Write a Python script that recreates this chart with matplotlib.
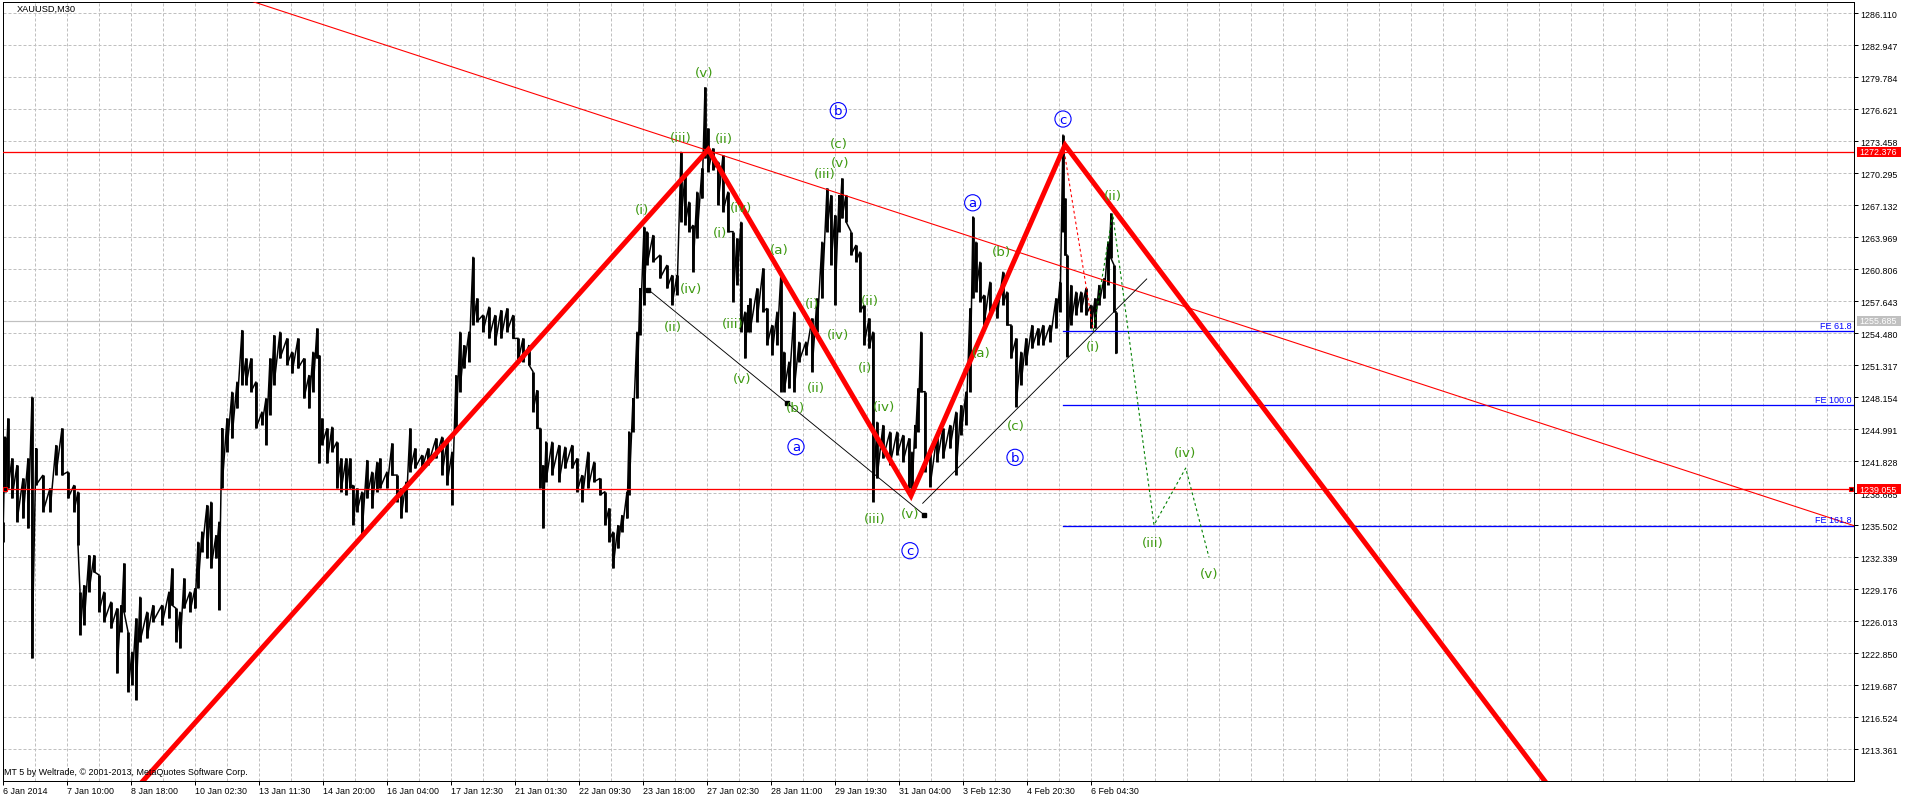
import matplotlib
matplotlib.use("Agg")
import matplotlib.pyplot as plt
from matplotlib.ticker import MultipleLocator, FixedLocator
from matplotlib.patches import Rectangle
from matplotlib.transforms import IdentityTransform

# ---------------- data (time in M30 bar index, prices in USD) ----------------
bar_t = [1, 3, 6, 10, 15, 21, 26, 30, 34, 41, 48, 54, 60, 66, 72, 76, 78, 82, 87, 92,
         97, 102, 109, 115, 119, 122, 126, 130, 134, 138, 145, 151, 160, 167, 170, 174, 178, 182, 188, 193,
         196, 200, 205, 209, 214, 217, 220, 225, 230, 235, 240, 244, 249, 254, 260, 264, 268, 272, 278, 285,
         290, 296, 302, 307, 311, 315, 317, 320, 325, 330, 335, 339, 344, 348, 351, 355, 360, 365, 370, 375,
         378, 385, 390, 395, 399, 404, 408, 413, 420, 426, 434, 440, 445, 450, 454, 458, 462, 467, 471, 475,
         481, 487, 493, 499, 505, 511, 516, 521, 527, 531, 535, 538, 541, 544, 550, 557, 563, 570, 575, 580,
         586, 592, 598, 603, 607, 611, 616, 620, 625, 627, 631, 635, 638, 642, 645, 651, 658, 665, 670, 675,
         679, 683, 687, 691, 695, 700, 703, 706, 711, 716, 721, 726, 731, 735, 739, 743, 746,
         748, 755, 761, 765, 770, 775, 779, 782, 787, 792, 797, 804, 810, 815, 820, 825, 829, 833, 837, 840,
         844, 849, 854, 858, 862, 867, 871, 875, 881, 888, 895, 901, 907, 910, 913, 916, 919, 923, 928, 935,
         941, 948, 954, 959, 964, 968, 971, 974, 978, 982, 988, 995, 1001, 1005, 1009, 1014, 1019, 1024, 1030, 1036,
         1041, 1048, 1054, 1058, 1061, 1063, 1065, 1069, 1074, 1079, 1084, 1089, 1093, 1097, 1102, 1106, 1109, 1112, 1114]
bar_high = [1235.83, 1244.23, 1246.04, 1242.09, 1241.43, 1240.11, 1242.09, 1248.19, 1243.08, 1240.44,
            1239.12, 1243.41, 1245.06, 1240.77, 1239.45, 1238.80, 1228.91, 1229.57, 1232.53, 1232.53,
            1230.56, 1228.91, 1227.92, 1227.26, 1227.59, 1231.71, 1224.96, 1222.98, 1226.27, 1228.42,
            1226.93, 1227.59, 1227.59, 1228.91, 1231.22, 1227.26, 1226.93, 1230.23, 1228.91, 1229.24,
            1233.85, 1234.84, 1237.48, 1237.81, 1234.51, 1235.83, 1245.06, 1246.04, 1248.68, 1249.67,
            1254.78, 1251.97, 1251.97, 1249.67, 1246.70, 1248.02, 1251.97, 1254.28, 1254.61, 1253.95,
            1252.63, 1253.95, 1251.97, 1250.33, 1252.63, 1254.94, 1252.30, 1246.04, 1245.06, 1245.22,
            1243.74, 1242.09, 1242.09, 1242.09, 1239.45, 1239.12, 1238.80, 1241.93, 1240.77, 1241.76,
            1242.09, 1240.77, 1243.57, 1240.44, 1239.13, 1239.78, 1245.05, 1243.08, 1242.42, 1243.08,
            1244.07, 1244.23, 1243.74, 1242.75, 1250.33, 1254.61, 1253.29, 1254.61, 1262.02, 1257.91,
            1256.26, 1257.08, 1256.26, 1256.75, 1256.92, 1256.26, 1253.95, 1253.95, 1253.29, 1250.66,
            1248.84, 1245.05, 1241.43, 1243.74, 1243.74, 1243.41, 1243.24, 1243.41, 1242.09, 1240.44,
            1242.75, 1241.76, 1240.11, 1238.80, 1237.15, 1234.84, 1235.50, 1236.49, 1238.80, 1244.73,
            1248.02, 1254.61, 1258.89, 1264.99, 1264.50, 1264.17, 1262.19, 1261.20, 1260.21, 1260.21,
            1272.40, 1270.10, 1267.46, 1265.15, 1268.45, 1270.76, 1278.77, 1274.71, 1272.73, 1271.42,
            1272.07, 1268.45, 1264.50, 1263.84, 1265.48, 1256.59, 1257.25,
            1257.91, 1258.89, 1260.87, 1256.92, 1255.27, 1256.59, 1260.54, 1252.63, 1251.65, 1256.59,
            1253.62, 1253.62, 1255.93, 1257.91, 1263.51, 1268.78, 1268.12, 1266.14, 1268.12, 1269.77,
            1268.12, 1264.50, 1263.18, 1262.52, 1257.25, 1255.93, 1254.61, 1245.71, 1245.39, 1244.73,
            1244.73, 1244.40, 1244.07, 1242.75, 1245.39, 1249.01, 1254.61, 1248.68, 1243.08, 1244.40,
            1245.05, 1245.39, 1246.70, 1247.36, 1248.68, 1256.92, 1265.98, 1263.51, 1261.53, 1258.24,
            1259.55, 1257.91, 1260.54, 1258.57, 1255.27, 1253.95, 1252.63, 1253.95, 1255.27, 1254.94,
            1255.27, 1255.27, 1257.91, 1259.55, 1274.10, 1267.79, 1262.19, 1259.23, 1258.57, 1258.57,
            1258.89, 1257.25, 1257.91, 1259.23, 1259.88, 1263.51, 1266.31, 1261.20, 1256.59]
bar_low = [1233.85, 1238.80, 1239.12, 1238.14, 1235.83, 1236.16, 1235.17, 1222.32, 1239.45, 1236.82,
           1236.82, 1240.44, 1240.44, 1238.14, 1236.82, 1233.52, 1224.63, 1225.62, 1228.91, 1230.89,
           1226.93, 1225.95, 1225.29, 1220.84, 1224.96, 1226.93, 1219.03, 1219.68, 1218.20, 1223.97,
           1224.30, 1225.95, 1225.62, 1226.27, 1227.59, 1223.97, 1223.31, 1227.26, 1226.93, 1227.26,
           1229.24, 1232.86, 1232.20, 1231.22, 1232.20, 1227.10, 1239.12, 1242.75, 1244.07, 1247.03,
           1249.34, 1249.34, 1248.68, 1245.06, 1245.39, 1243.41, 1246.37, 1249.34, 1251.97, 1251.32,
           1250.49, 1250.99, 1248.02, 1247.03, 1248.68, 1251.97, 1241.60, 1243.41, 1241.60, 1242.75,
           1239.12, 1238.80, 1238.47, 1239.12, 1235.50, 1236.82, 1234.51, 1238.14, 1237.15, 1238.80,
           1239.13, 1239.13, 1240.44, 1237.81, 1236.16, 1236.82, 1240.77, 1241.10, 1241.10, 1241.43,
           1242.09, 1240.44, 1239.45, 1237.48, 1244.73, 1248.68, 1250.99, 1251.65, 1255.27, 1255.60,
           1254.61, 1253.95, 1253.29, 1253.95, 1254.61, 1253.95, 1251.65, 1251.65, 1251.32, 1246.70,
           1245.05, 1239.13, 1235.17, 1239.78, 1240.44, 1239.78, 1241.10, 1241.10, 1238.80, 1237.81,
           1239.13, 1239.78, 1238.47, 1235.50, 1233.85, 1231.22, 1233.19, 1234.84, 1236.16, 1238.47,
           1244.73, 1248.02, 1254.28, 1257.25, 1261.20, 1261.53, 1259.88, 1258.89, 1257.25, 1258.24,
           1265.48, 1265.15, 1264.50, 1260.54, 1263.84, 1267.79, 1271.74, 1270.43, 1270.59, 1267.13,
           1266.47, 1264.50, 1257.58, 1259.23, 1254.61, 1251.97, 1254.61,
           1254.61, 1255.60, 1256.59, 1253.29, 1252.30, 1253.29, 1248.68, 1248.68, 1249.01, 1248.68,
           1251.65, 1252.30, 1250.66, 1254.61, 1257.91, 1264.50, 1261.20, 1257.25, 1264.50, 1265.81,
           1265.48, 1262.19, 1261.53, 1256.59, 1253.29, 1252.96, 1237.81, 1240.11, 1242.09, 1241.43,
           1242.42, 1241.76, 1239.13, 1238.80, 1243.08, 1244.73, 1248.68, 1240.77, 1239.29, 1241.76,
           1242.09, 1243.08, 1240.44, 1244.40, 1245.39, 1248.68, 1257.91, 1258.57, 1257.58, 1255.27,
           1256.59, 1255.93, 1257.25, 1255.27, 1251.97, 1247.20, 1249.34, 1251.32, 1252.96, 1253.29,
           1253.29, 1253.62, 1254.94, 1256.59, 1264.50, 1262.19, 1252.14, 1255.27, 1256.26, 1256.59,
           1256.26, 1254.94, 1254.94, 1257.25, 1257.91, 1259.23, 1261.86, 1256.59, 1252.47]

tick_bars = [1, 65, 129, 193, 257, 321, 385, 449, 513, 577, 641, 705, 769, 833, 897, 961, 1025, 1089]
tick_labels = ["6 Jan 2014", "7 Jan 10:00", "8 Jan 18:00", "10 Jan 02:30", "13 Jan 11:30",
               "14 Jan 20:00", "16 Jan 04:00", "17 Jan 12:30", "21 Jan 01:30", "22 Jan 09:30",
               "23 Jan 18:00", "27 Jan 02:30", "28 Jan 11:00", "29 Jan 19:30", "31 Jan 04:00",
               "3 Feb 12:30", "4 Feb 20:30", "6 Feb 04:30"]
price_ticks = [1213.361, 1216.524, 1219.687, 1222.850, 1226.013, 1229.176, 1232.339, 1235.502,
               1238.665, 1241.828, 1244.991, 1248.154, 1251.317, 1254.480, 1257.643, 1260.806,
               1263.969, 1267.132, 1270.295, 1273.458, 1276.621, 1279.784, 1282.947, 1286.110]

# red zigzag (Elliott swing)
zz_t = [100, 706.3, 909, 1063, 1600]
zz_p = [1205.68, 1272.62, 1238.40, 1273.06, 1202.70]
# thin red trend line anchors
trend_t = [251, 1850]
trend_p = [1287.23, 1235.50]
# horizontal levels
red_levels = [1272.376, 1239.055]
bid_level = 1255.685
fe_names = ["FE 61.8", "FE 100.0", "FE 161.8"]
fe_levels = [1254.64, 1247.36, 1235.45]
fe_start = 1061
# black channel lines
ch1_t = [646.3, 784.7, 922.3]
ch1_p = [1258.76, 1247.58, 1236.49]
ch2_t = [920.7, 1144.7]
ch2_p = [1237.65, 1259.82]
# projected path
proj_red_t = [1061.3, 1091.3]
proj_red_p = [1273.0, 1254.7]
proj_green_t = [1091.3, 1110.7, 1152.0, 1183.7, 1207.0]
proj_green_p = [1254.7, 1266.24, 1235.50, 1241.13, 1232.31]

# wave labels
wave_t = [702.3, 679.0, 722.3, 639.7, 689.0, 671.3, 718.0, 738.7, 731.3, 739.7,
          777.3, 809.7, 794.0, 814.0, 835.7, 823.0, 838.0, 837.3, 868.0, 863.0,
          882.3, 873.0, 908.0, 1000.0, 979.0, 1013.7, 1110.5, 1090.7, 1150.7, 1183.0, 1207.0]
wave_p = [1280.25, 1273.79, 1273.66, 1266.70, 1258.83, 1255.11, 1264.40, 1266.90, 1255.37, 1250.00,
          1262.75, 1257.41, 1247.10, 1249.08, 1254.35, 1270.26, 1271.35, 1273.23, 1257.74, 1251.05,
          1247.20, 1236.16, 1236.65, 1262.55, 1252.55, 1245.32, 1268.10, 1253.15, 1233.79, 1242.62, 1230.66]
wave_text = ["(v)", "(iii)", "(ii)", "(i)", "(iv)", "(ii)", "(i)", "(iv)", "(iii)", "(v)",
             "(a)", "(i)", "(b)", "(ii)", "(iv)", "(iii)", "(v)", "(c)", "(ii)", "(i)",
             "(iv)", "(iii)", "(v)", "(b)", "(a)", "(c)", "(ii)", "(i)", "(iii)", "(iv)", "(v)"]
circ_t = [836.3, 794.0, 908.0, 970.7, 1013.0, 1061.0]
circ_p = [1276.46, 1243.24, 1232.96, 1267.35, 1242.19, 1275.63]
circ_text = ["b", "a", "c", "a", "b", "c"]

# ---------------- figure ----------------
W, H = 1912, 803
plt.rcParams['font.family'] = ['Liberation Sans', 'DejaVu Sans']
fig = plt.figure(figsize=(W / 100, H / 100), dpi=100)
fig.patch.set_facecolor('white')
L, R, T, B = 2.5, 1854, 2.5, 782
ax = fig.add_axes([L / W, (H - B) / H, (R - L) / W, (B - T) / H])
ax.set_xlim(0.5, 1852)
ax.set_ylim(1210.198, 1287.247)

px = 0.72  # one pixel in points
for s in ax.spines.values():
    s.set_linewidth(1.0 * px)
    s.set_color('black')

# grid
ax.xaxis.set_major_locator(FixedLocator(tick_bars))
ax.xaxis.set_minor_locator(MultipleLocator(32, offset=1))
ax.set_xticklabels(tick_labels, ha='left')
ax.set_yticks(price_ticks)
ax.set_yticklabels([f"{v:.3f}" for v in price_ticks])
ax.yaxis.tick_right()
gkw = dict(color='#c0c0c0', linestyle=(0, (3, 2)), linewidth=px)
ax.grid(which='both', axis='x', **gkw)
ax.grid(which='major', axis='y', **gkw)
ax.set_axisbelow(True)
ax.tick_params(axis='x', which='major', direction='out', length=4 * px, width=px,
               labelsize=6.4, pad=1.0)
ax.tick_params(axis='x', which='minor', length=0)
ax.tick_params(axis='y', which='major', direction='out', length=4 * px, width=px,
               labelsize=6.4, pad=2.0)

# horizontal lines
ax.axhline(bid_level, color='#c0c0c0', lw=1.2 * px, zorder=1.2)
for lv in red_levels:
    ax.axhline(lv, color='#ff0000', lw=1.3 * px, zorder=3)
ax.plot([3, 1849], [red_levels[1], red_levels[1]], ls='none', marker='s', ms=4 * px,
        mfc='black', mec='red', mew=0.8, zorder=4, clip_on=False)

# FE levels
for name, lv in zip(fe_names, fe_levels):
    ax.plot([fe_start, 1852], [lv, lv], color='#0000ff', lw=1.3 * px, zorder=3)
    ax.text(1850, lv + 0.15, name, color='#0000ff', fontsize=6.5, ha='right', va='bottom', zorder=6)

# price bars
pt, pp = [], []
for t, h, l in zip(bar_t, bar_high, bar_low):
    pt += [t, t]
    pp += [h, l]
ax.plot(pt, pp, color='black', lw=1.5 * px, zorder=2, solid_joinstyle='miter')
ax.vlines(bar_t, bar_low, bar_high, color='black', lw=2.8 * px, zorder=2)

# trend line
ax.axline((trend_t[0], trend_p[0]), (trend_t[1], trend_p[1]), color='#ff0000', lw=1.1 * px, zorder=3)

# channel lines
ax.plot([ch1_t[0], ch1_t[-1]], [ch1_p[0], ch1_p[-1]], color='black', lw=0.9 * px, zorder=3)
ax.plot(ch1_t, ch1_p, ls='none', marker='s', ms=4 * px, color='black', zorder=4)
ax.plot(ch2_t, ch2_p, color='black', lw=0.9 * px, zorder=3)

# projections
ax.plot(proj_red_t, proj_red_p, color='#ff0000', lw=1.1 * px, ls=(0, (2.5, 2.5)), zorder=4)
ax.plot(proj_green_t, proj_green_p, color='#008000', lw=1.1 * px, ls=(0, (2.5, 2.5)), zorder=4)

# red zigzag
ax.plot(zz_t, zz_p, color='#ff0000', lw=5 * px, zorder=5, solid_joinstyle='miter',
        solid_capstyle='butt')

# wave labels
for t, p, s in zip(wave_t, wave_p, wave_text):
    ax.text(t, p, s, color='#3f9a12', fontsize=9.7, family='DejaVu Sans',
            ha='center', va='center', zorder=7)
for t, p, s in zip(circ_t, circ_p, circ_text):
    ax.text(t, p, s, color='#0000ff', fontsize=9.5, family='DejaVu Sans',
            ha='center', va='center', zorder=7,
            bbox=dict(boxstyle='circle,pad=0.12', fc='none', ec='#0000ff', lw=0.8))

# price labels on the right axis (boxes)
fig.canvas.draw()
def axis_box(price, fc):
    y = ax.transData.transform((0, price))[1]
    r = Rectangle((1857, y - 5), 44, 10, transform=IdentityTransform(), fc=fc, ec='none', zorder=20)
    fig.add_artist(r)
    fig.text(1859 / W, y / H, f"{price:.3f}", color='white', fontsize=6.4, ha='left',
             va='center', zorder=21)

axis_box(red_levels[0], '#ff0000')
axis_box(red_levels[1], '#ff0000')
axis_box(bid_level, '#c0c0c0')

fig.text(17 / W, 1 - 9.5 / H, "XAUUSD,M30", fontsize=6.7, ha='left', va='center', color='black')
fig.text(4 / W, 1 - 773 / H, "MT 5 by Weltrade, \u00a9 2001-2013, MetaQuotes Software Corp.",
         fontsize=6.4, ha='left', va='center', color='black', zorder=30)

fig.savefig("out.png", dpi=100, facecolor='white')
